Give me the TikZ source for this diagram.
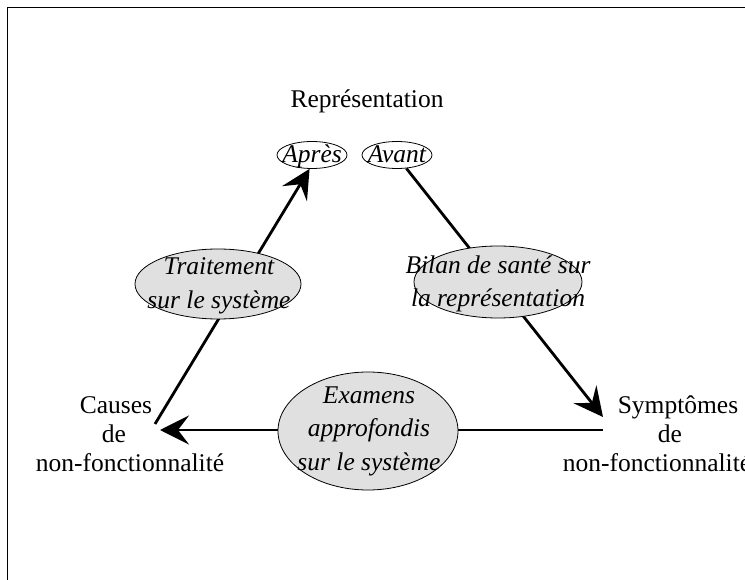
\documentclass[tikz,border=0pt]{standalone}
\usepackage{fontspec}
\setmainfont{Liberation Serif}
\usetikzlibrary{arrows.meta,shapes.geometric}
\begin{document}
\begin{tikzpicture}[x=1pt,y=-1pt,
  lbl/.style={font=\fontsize{25.5}{29}\selectfont, inner sep=0, anchor=base},
  itl/.style={font=\fontsize{25.5}{33.5}\selectfont\itshape, align=center, inner sep=0},
  small/.style={ellipse, draw, line width=0.8pt, inner sep=0},
  bub/.style={ellipse, draw, line width=0.8pt, fill=black!12, inner sep=0},
  conn/.style={line width=2.8pt},
  arr/.style={conn, -{Stealth[length=29pt,width=29pt,inset=11pt]}}
]
\useasboundingbox (0,0) rectangle (745,580);
\draw[line width=1pt] (7,580) |- (745,8);

% top labels
\node[lbl] (rep) at (367,108) {Représentation};
\node[small, minimum width=70, minimum height=27] (apres) at (312,155) {};
\node[small, minimum width=70, minimum height=27] (avant) at (397,155) {};

% side labels
\node[lbl] (ca1) at (116,413) {Causes};
\node[lbl] (ca2) at (114,442) {de};
\node[lbl] (ca3) at (130,471) {non-fonctionnalité};
\node[lbl] (sy1) at (678,413) {Symptômes};
\node[lbl] (sy2) at (670,442) {de};
\node[lbl] (sy3) at (657,471) {non-fonctionnalité};

% connector end points
\coordinate (cl) at (155,424);
\coordinate (st) at (603,417);
\coordinate (sr) at (603,430);
\coordinate (cr) at (160,430);

\draw[arr] (cl) -- (apres.260);
\draw[arr] (avant.-55) -- (st);
\draw[arr] (sr) -- (cr);

% bubbles
\node[bub, minimum width=166, minimum height=70] (trait) at (218,284) {};
\node[bub, minimum width=168, minimum height=72] (bilan) at (498,282) {};
\node[bub, minimum width=180, minimum height=118] (exam) at (368,431) {};

% texts
\node[itl, anchor=base] (apresT) at (312,163) {Après};
\node[itl, anchor=base] (avantT) at (397,163) {Avant};
\node[itl] (traitT) at (219,286) {Traitement\\sur le système};
\node[itl] (bilanT) at (498,284) {Bilan de santé sur\\la représentation};
\node[itl] (examT) at (369,431) {Examens\\approfondis\\sur le système};
\end{tikzpicture}
\end{document}
